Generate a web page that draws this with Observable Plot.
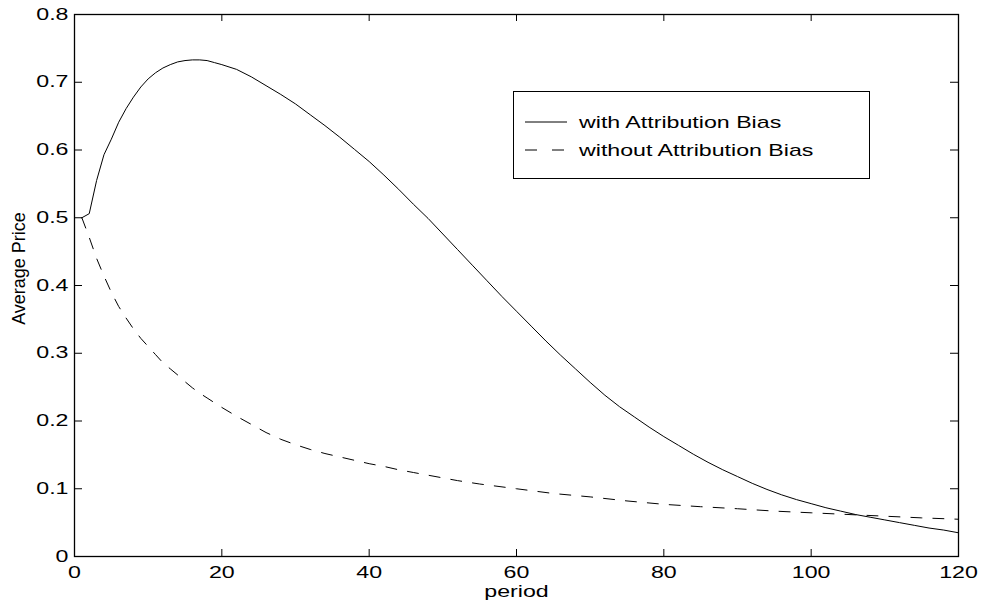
<!DOCTYPE html>
<html>
<head>
<meta charset="utf-8">
<script src="https://cdn.jsdelivr.net/npm/d3@7"></script>
<script src="https://cdn.jsdelivr.net/npm/@observablehq/plot@0.6"></script>
<style>
  html, body { margin: 0; padding: 0; background: #fff; }
  #wrap { position: relative; width: 982px; height: 601px; font-family: "Liberation Sans", Arial, Helvetica, sans-serif; }
  #legend { position: absolute; left: 513px; top: 91px; width: 357px; height: 88px; border: 1.2px solid #000; background: #fff; box-sizing: border-box; }
</style>
</head>
<body>
<div id="wrap"></div>
<script>
// ---- data ----
const seriesNames = ["with Attribution Bias", "without Attribution Bias"];

const withBiasPeriod = [1,2,3,4,5,6,7,8,9,10,11,12,13,14,15,16,17,18,19,20,22,24,26,28,30,32,34,36,38,40,42,44,46,48,50,52,54,56,58,60,62,64,66,68,70,72,74,76,78,80,82,84,86,88,90,92,94,96,98,100,102,104,106,108,110,112,114,116,118,120];
const withBiasPrice = [0.500,0.506,0.555,0.593,0.616,0.641,0.661,0.678,0.693,0.705,0.714,0.721,0.726,0.730,0.732,0.733,0.733,0.732,0.729,0.726,0.719,0.708,0.695,0.682,0.668,0.652,0.636,0.619,0.601,0.583,0.563,0.542,0.520,0.499,0.476,0.453,0.430,0.407,0.384,0.362,0.340,0.318,0.297,0.277,0.257,0.238,0.221,0.206,0.191,0.177,0.164,0.151,0.139,0.128,0.118,0.108,0.099,0.091,0.084,0.078,0.072,0.067,0.062,0.058,0.054,0.050,0.046,0.042,0.039,0.035];

const withoutBiasPeriod = [1,2,3,4,5,6,7,8,9,10,11,12,13,14,15,16,17,18,19,20,22,24,26,28,30,32,34,36,38,40,42,44,46,48,50,52,55,60,65,70,75,80,85,90,95,100,105,110,115,120];
const withoutBiasPrice = [0.500,0.471,0.440,0.414,0.390,0.369,0.352,0.336,0.322,0.310,0.298,0.286,0.277,0.268,0.258,0.249,0.241,0.234,0.227,0.220,0.207,0.195,0.183,0.173,0.165,0.158,0.152,0.147,0.142,0.137,0.133,0.128,0.124,0.120,0.116,0.112,0.107,0.100,0.093,0.088,0.082,0.077,0.0735,0.0705,0.067,0.0645,0.062,0.0595,0.057,0.055];

const xTicks = [0, 20, 40, 60, 80, 100, 120];
const xTickLabels = ["0", "20", "40", "60", "80", "100", "120"];
const yTicks = [0, 0.1, 0.2, 0.3, 0.4, 0.5, 0.6, 0.7, 0.8];
const yTickLabels = ["0", "0.1", "0.2", "0.3", "0.4", "0.5", "0.6", "0.7", "0.8"];
const xLabel = "period";
const yLabel = "Average Price";

// ---- build tables ----
const withBias = withBiasPeriod.map((p, i) => ({period: p, price: withBiasPrice[i]}));
const withoutBias = withoutBiasPeriod.map((p, i) => ({period: p, price: withoutBiasPrice[i]}));

const W = 982, H = 601, mL = 74, mR = 24, mT = 14, mB = 45;
const innerW = W - mL - mR, innerH = H - mT - mB;
const FONT = '"Liberation Sans", Arial, Helvetica, sans-serif';
const STRETCH = 1.45;

const chart = Plot.plot({
  width: W, height: H,
  marginLeft: mL, marginRight: mR, marginTop: mT, marginBottom: mB,
  style: {fontFamily: FONT, background: "#fff", color: "#000", overflow: "visible"},
  x: {domain: [0, 120], axis: null},
  y: {domain: [0, 0.8], axis: null},
  marks: [
    // inward ticks on all four sides
    Plot.ruleX(xTicks, {x: d => d, insetTop: innerH - 7, stroke: "#000", strokeWidth: 1}),
    Plot.ruleX(xTicks, {x: d => d, insetBottom: innerH - 7, stroke: "#000", strokeWidth: 1}),
    Plot.ruleY(yTicks, {y: d => d, insetRight: innerW - 8, stroke: "#000", strokeWidth: 1}),
    Plot.ruleY(yTicks, {y: d => d, insetLeft: innerW - 8, stroke: "#000", strokeWidth: 1}),
    Plot.line(withoutBias, {x: "period", y: "price", stroke: "#000", strokeWidth: 1, strokeDasharray: "11,11"}),
    Plot.line(withBias, {x: "period", y: "price", stroke: "#000", strokeWidth: 1}),
    Plot.frame({stroke: "#000", strokeWidth: 1.3}),
    Plot.text(xTicks, {x: d => d, text: (d, i) => xTickLabels[i], frameAnchor: "bottom", lineAnchor: "top", dy: 10, fontSize: 16, fill: "#000", className: "stretch"}),
    Plot.text(yTicks, {y: d => d, text: (d, i) => yTickLabels[i], frameAnchor: "left", textAnchor: "end", dx: -6, fontSize: 16, fill: "#000", className: "stretch"}),
    Plot.text([xLabel], {text: d => d, frameAnchor: "bottom", lineAnchor: "top", dy: 29, fontSize: 16, fill: "#000", className: "stretch"}),
    Plot.text([yLabel], {text: d => d, frameAnchor: "left", textAnchor: "middle", rotate: -90, dx: -55, dy: -17, fontSize: 18, fill: "#000"})
  ]
});

// stretch horizontal text like the reference (scale about each text's anchor)
d3.select(chart).selectAll("g.stretch text").each(function() {
  const t = this.getAttribute("transform") || "";
  this.setAttribute("transform", `${t} scale(${STRETCH},1)`);
});

const wrap = document.getElementById("wrap");
wrap.appendChild(chart);

// ---- legend (inside plot area, top right) ----
const legend = d3.select(wrap).append("div").attr("id", "legend");
const lsvg = legend.append("svg").attr("width", 355).attr("height", 86)
  .style("display", "block").style("font-family", FONT);
const dashes = [null, "12,15"];
const rowY = [30, 58];
seriesNames.forEach((name, i) => {
  lsvg.append("line").attr("x1", 11).attr("x2", 53).attr("y1", rowY[i]).attr("y2", rowY[i])
    .attr("stroke", "#000").attr("stroke-width", 1).attr("stroke-dasharray", dashes[i]);
  lsvg.append("text").attr("transform", `translate(65,${rowY[i]}) scale(${STRETCH},1)`)
    .attr("dy", "0.35em").attr("font-size", 16).attr("fill", "#000").text(name);
});
</script>
</body>
</html>
